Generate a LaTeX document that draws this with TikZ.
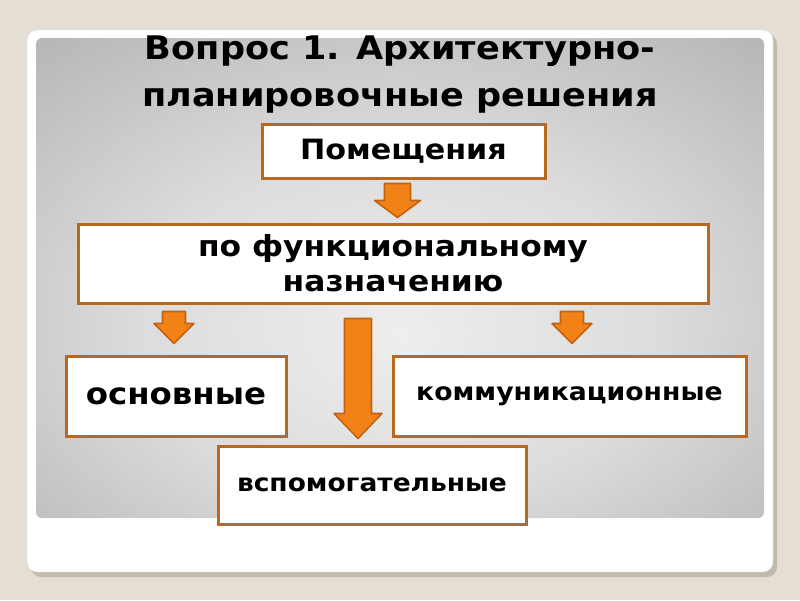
\documentclass[tikz,border=0pt]{standalone}
\usepackage{fontspec}
\setmainfont{DejaVu Sans}[FakeStretch=1.08]
\usetikzlibrary{calc}

\definecolor{slidebg}{RGB}{228,222,212}
\definecolor{slideshadow}{RGB}{196,186,170}
\definecolor{boxedge}{RGB}{186,104,32}
\definecolor{arrowfill}{RGB}{243,130,22}
\definecolor{arrowedge}{RGB}{196,98,18}
\definecolor{panelc}{RGB}{238,238,238}
\definecolor{panelm}{RGB}{220,220,220}
\definecolor{panelo}{RGB}{182,182,182}
\definecolor{panelk}{RGB}{152,152,152}
\definecolor{panelx}{RGB}{138,138,138}
\pgfdeclareradialshading{panelglow}{\pgfpoint{0bp}{-6bp}}{color(0bp)=(panelc); color(18bp)=(panelm); color(38bp)=(panelo); color(55bp)=(panelk); color(72bp)=(panelx); color(100bp)=(panelx)}

% block arrow: start, tip, half shaft, half head, head length
\newcommand{\fatarrow}[5]{%
  \draw[fatarrow] ($(#1)+(-#3,0)$) -- ($(#1)+(#3,0)$) -- ($(#2)+(#3,-#5)$)
    -- ($(#2)+(#4,-#5)$) -- (#2) -- ($(#2)+(-#4,-#5)$) -- ($(#2)+(-#3,-#5)$) -- cycle;}

\tikzset{
  box/.style={draw=boxedge, line width=3pt, fill=white, font=\bfseries,
    inner sep=0pt, align=center},
  fatarrow/.style={fill=arrowfill, draw=arrowedge, line width=1.6pt, line join=round}
}

\begin{document}
\begin{tikzpicture}[x=1pt, y=-1pt]
% slide
\fill[slidebg] (0,0) rectangle (800,600);
\fill[slideshadow, rounded corners=10pt] (31,34) rectangle (777,577);
\fill[white, draw=black!15, rounded corners=10pt] (27,30) rectangle (773,572);
\shade[shading=panelglow, rounded corners=6pt] (36,38) rectangle (764,518);

% title
\node[font=\fontsize{32.5}{47}\selectfont\bfseries, align=center] (title) at (400,75)
  {Вопрос 1. Архитектурно-\\планировочные решения};

% boxes
\node[box, minimum width=283pt, minimum height=54pt, font=\fontsize{28}{30}\selectfont\bfseries]
  (pom) at (403.5,151) {Помещения};
\node[box, minimum width=630pt, minimum height=79pt, font=\fontsize{29}{35}\selectfont\bfseries]
  (func) at (393,263.5) {по функциональному\\назначению};
\node[box, minimum width=220pt, minimum height=80pt, font=\fontsize{30}{34}\selectfont\bfseries]
  (osn) at (176,396) {основные};
\node[box, minimum width=353pt, minimum height=80pt, font=\fontsize{24.7}{28}\selectfont\bfseries]
  (kom) at (569.5,396) {коммуникационные};
\node[box, minimum width=308pt, minimum height=78pt, font=\fontsize{24.5}{28}\selectfont\bfseries]
  (vsp) at (372,485) {вспомогательные};

% arrows
\coordinate (a1s) at ($(pom.south)+(-6,4)$);
\coordinate (a1t) at ($(a1s |- func.north)+(0,-5)$);
\coordinate (a2s) at ($(osn.north |- func.south)+(-2,7)$);
\coordinate (a2t) at ($(a2s |- osn.north)+(0,-11)$);
\coordinate (a3s) at ($(kom.north |- func.south)+(2.5,7)$);
\coordinate (a3t) at ($(a3s |- kom.north)+(0,-11)$);
\coordinate (a4s) at ($(vsp.north |- func.south)+(-14,14)$);
\coordinate (a4t) at ($(a4s |- vsp.north)+(0,-6)$);
\fatarrow{a1s}{a1t}{13}{23}{17}
\fatarrow{a2s}{a2t}{11.5}{20}{20}
\fatarrow{a3s}{a3t}{11.5}{20}{20}
\fatarrow{a4s}{a4t}{13.5}{24}{25}
\end{tikzpicture}
\end{document}
